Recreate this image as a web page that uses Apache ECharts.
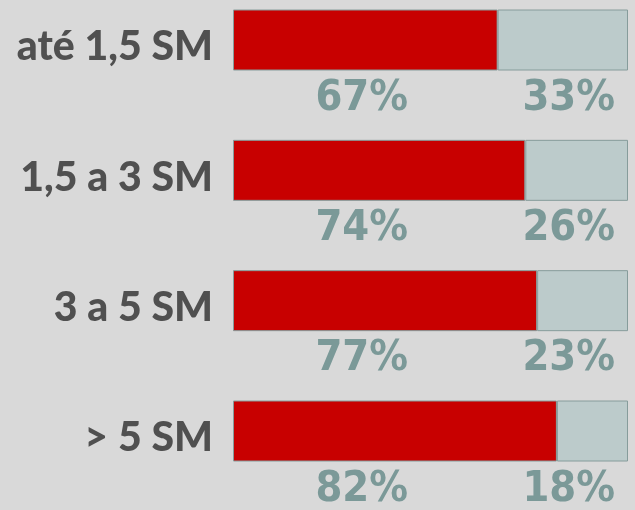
<!DOCTYPE html>
<html>
<head>
<meta charset="utf-8">
<style>
    html, body { margin: 0; padding: 0; background: #d9d9d9; }
    #chart { width: 635px; height: 510px; }
</style>
<script src="https://cdn.jsdelivr.net/npm/echarts@6/dist/echarts.min.js"></script>
</head>
<body>
<div id="chart"></div>
<script>
'use strict';

var categories = ['até 1,5 SM', '1,5 a 3 SM', '3 a 5 SM', '> 5 SM'];
var redValues = [67, 74, 77, 82];
var greyValues = [33, 26, 23, 18];

var pctFont = '"DejaVu Sans Condensed", "DejaVu Sans", sans-serif';

function pctLabel(position, offset) {
    return {
        show: true,
        position: position,
        offset: offset,
        align: 'right',
        verticalAlign: 'middle',
        fontFamily: pctFont,
        fontWeight: 'bold',
        fontSize: 43,
        color: '#7b9998',
        formatter: function(p) {
            return p.value + '%';
        }
    };
}

var chart = echarts.init(document.getElementById('chart'));

var option = {
    backgroundColor: '#d9d9d9',
    animation: false,
    grid: {
        left: 233,
        right: 7,
        top: 40,
        bottom: 79
    },
    xAxis: {
        type: 'value',
        min: 0,
        max: 100,
        show: false
    },
    yAxis: {
        type: 'category',
        data: categories,
        inverse: true,
        boundaryGap: false,
        axisLine: { show: false },
        axisTick: { show: false },
        splitLine: { show: false },
        axisLabel: {
            margin: 20,
            formatter: function(v) {
                return '{t|' + v + '}';
            },
            rich: {
                t: {
                    color: '#505050',
                    fontFamily: 'Lato',
                    fontWeight: 900,
                    fontSize: 41,
                    padding: [14, 0, 0, 0]
                }
            }
        }
    },
    series: [{
        name: 'red',
        type: 'bar',
        stack: 'total',
        barWidth: 61,
        data: redValues,
        itemStyle: {
            color: '#c80000',
            borderColor: '#869c9b',
            borderWidth: 1
        },
        label: pctLabel([175, 89], [0, 0])
    }, {
        name: 'grey',
        type: 'bar',
        stack: 'total',
        barWidth: 61,
        data: greyValues,
        itemStyle: {
            color: '#bccbcb',
            borderColor: '#869c9b',
            borderWidth: 1
        },
        label: pctLabel(['100%', 89], [-13, 0])
    }]
};

chart.setOption(option);
</script>
</body>
</html>
